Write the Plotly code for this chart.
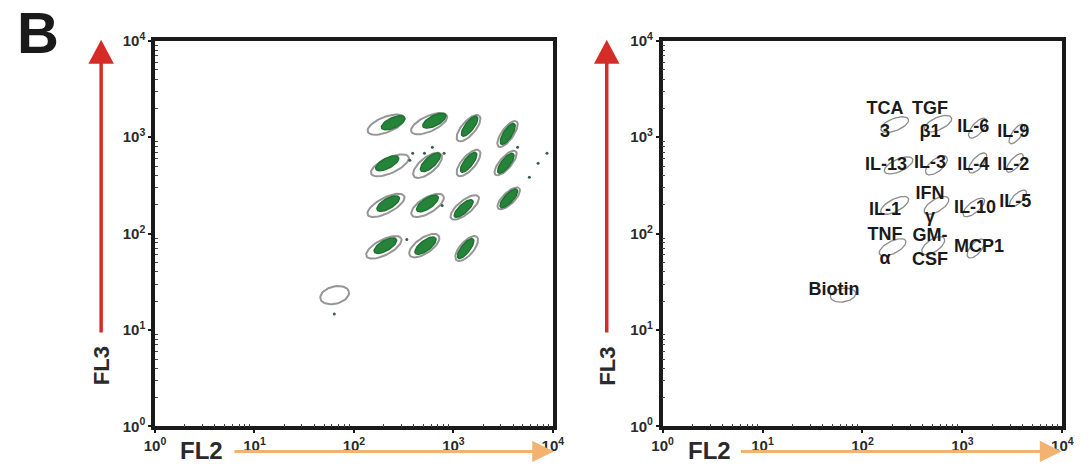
import numpy as np
import plotly.graph_objects as go

# ---------------- data ----------------
# bead-population gates (grey ellipses), FL2 / FL3 centres
bead_fl2 = [210, 570, 1420, 3500,
            230, 550, 1420, 3350,
            210, 550, 1300, 3600,
            200, 510, 1360]
bead_fl3 = [1350, 1380, 1240, 1080,
            510, 510, 540, 540,
            196, 196, 187, 232,
            72, 75, 70]
biotin_fl2 = 64
biotin_fl3 = 23

# green event clouds (centres)
cloud_fl2 = [248, 643, 1455, 3520,
             216, 587, 1422, 3365,
             221, 548, 1268, 3606,
             207, 524, 1327]
cloud_fl3 = [1410, 1480, 1300, 1080,
             536, 549, 549, 536,
             205, 205, 182, 232,
             75, 75, 70]

# stray events
stray_fl2 = [390, 365, 512, 614, 806, 8730, 7110, 5800, 771, 340, 4420, 63.5]
stray_fl3 = [681, 576, 681, 787, 681, 681, 536, 383, 196, 86.6, 787, 14.7]

# cytokine labels (right panel)
label_text = ["TCA<br>3", "TGF<br>β1", "IL-6", "IL-9",
              "IL-13", "IL-3", "IL-4", "IL-2",
              "IL-1", "IFN<br>γ", "IL-10", "IL-5",
              "TNF<br>α", "GM-<br>CSF", "MCP1", "Biotin"]
label_fl2 = [168, 475, 1282, 3236,
             172, 475, 1282, 3236,
             168, 475, 1340, 3382,
             168, 475, 1468, 52]
label_fl3 = [1468, 1468, 1271, 1128,
             511, 536, 511, 511,
             174, 192, 182, 210,
             71.5, 70, 71.5, 25.5]

tick_vals = [1, 10, 100, 1000, 10000]
tick_text = ["<b>10<sup>0</sup></b>", "<b>10<sup>1</sup></b>", "<b>10<sup>2</sup></b>",
             "<b>10<sup>3</sup></b>", "<b>10<sup>4</sup></b>"]

# ---------------- styles ----------------
ell_angle = [22, 25, 50, 55, 25, 40, 50, 50, 28, 32, 40, 45, 28, 35, 50]
ell_major = [20, 20, 17, 16, 21, 18, 17, 16, 21, 19, 18, 15, 20, 18, 16]
ell_minor = [8, 8, 7, 6, 8, 8, 7, 6, 8, 8, 7, 6, 8, 8, 7]

W, H = 1091, 469
FONT = "Liberation Sans, Arial, sans-serif"
TOP, BOT = 31, 433
PX_X = 101.5                 # pixels per decade, x
PX_Y = (BOT - TOP) / 4.0     # pixels per decade, y
GREY = "rgb(150,150,150)"
GREEN = "rgb(38,132,58)"


def ellipse(cx, cy, a, b, ang, n=60):
    t = np.linspace(0, 2 * np.pi, n)
    th = np.deg2rad(ang)
    dx = a * np.cos(t) * np.cos(th) - b * np.sin(t) * np.sin(th)
    dy = a * np.cos(t) * np.sin(th) + b * np.sin(t) * np.cos(th)
    return (10 ** (np.log10(cx) + dx / PX_X), 10 ** (np.log10(cy) + dy / PX_Y))


fig = go.Figure()

# ---- left panel ----
for i in range(len(bead_fl2)):
    ex, ey = ellipse(bead_fl2[i], bead_fl3[i], ell_major[i], ell_minor[i], ell_angle[i])
    fig.add_trace(go.Scatter(x=ex, y=ey, mode="lines", line=dict(color=GREY, width=2),
                             hoverinfo="skip", showlegend=False, xaxis="x", yaxis="y"))
ex, ey = ellipse(biotin_fl2, biotin_fl3, 15, 9, 15)
fig.add_trace(go.Scatter(x=ex, y=ey, mode="lines", line=dict(color=GREY, width=2),
                         hoverinfo="skip", showlegend=False, xaxis="x", yaxis="y"))
for i in range(len(cloud_fl2)):
    a = 13 if i % 4 < 2 else 12.5
    b = 5.3 if i % 4 < 2 else 4.5
    ex, ey = ellipse(cloud_fl2[i], cloud_fl3[i], a, b, ell_angle[i] + 3)
    fig.add_trace(go.Scatter(x=ex, y=ey, mode="lines", fill="toself", fillcolor=GREEN,
                             line=dict(color="rgb(30,115,48)", width=1.5),
                             hoverinfo="skip", showlegend=False, xaxis="x", yaxis="y"))
fig.add_trace(go.Scatter(x=stray_fl2, y=stray_fl3, mode="markers",
                         marker=dict(color="rgb(60,95,70)", size=3),
                         hoverinfo="skip", showlegend=False, xaxis="x", yaxis="y"))

# ---- right panel ----
for i in range(len(bead_fl2)):
    ex, ey = ellipse(bead_fl2[i], bead_fl3[i], ell_major[i] * 0.75, ell_minor[i] * 0.8, ell_angle[i])
    fig.add_trace(go.Scatter(x=ex, y=ey, mode="lines", line=dict(color="rgb(140,140,140)", width=1.3),
                             hoverinfo="skip", showlegend=False, xaxis="x2", yaxis="y2"))
ex, ey = ellipse(biotin_fl2, biotin_fl3, 13, 7, 10)
fig.add_trace(go.Scatter(x=ex, y=ey, mode="lines", line=dict(color="rgb(140,140,140)", width=1.3),
                         hoverinfo="skip", showlegend=False, xaxis="x2", yaxis="y2"))
fig.add_trace(go.Scatter(x=label_fl2, y=label_fl3, mode="text",
                         text=[f"<b>{t}</b>" for t in label_text],
                         textfont=dict(family=FONT, size=18, color="#1a1a1a"),
                         textposition="middle center",
                         hoverinfo="skip", showlegend=False, xaxis="x2", yaxis="y2"))


def px(x):
    return x / W


def py(y):
    return 1 - y / H


minor_vals = [m * 10 ** k for k in range(4) for m in range(2, 10)]


def axis(domain, anchor):
    return dict(type="log", range=[0, 4], domain=domain, anchor=anchor,
                showline=True, mirror=True, linecolor="#1a1a1a", linewidth=3.5,
                ticks="outside", ticklen=3, tickwidth=1.5, tickcolor="#1a1a1a",
                showgrid=False, zeroline=False,
                tickmode="array", tickvals=tick_vals, ticktext=tick_text,
                tickfont=dict(family=FONT, size=15, color="#2a2a2a"),
                minor=dict(tickmode="array", tickvals=minor_vals, ticks="inside", ticklen=3,
                           tickwidth=1, tickcolor="#444", showgrid=False),
                fixedrange=True)


ydom = [py(BOT), py(TOP)]
layout = dict(
    width=W, height=H, margin=dict(l=0, r=0, t=0, b=0),
    paper_bgcolor="white", plot_bgcolor="white", showlegend=False,
    xaxis=axis([px(147), px(553)], "y"),
    yaxis=axis(ydom, "x"),
    xaxis2=axis([px(665), px(1073)], "y2"),
    yaxis2=axis(ydom, "x2"),
)
fig.update_layout(**layout)

RED = "rgb(214,44,40)"
ORANGE = "rgb(244,178,112)"
shapes = []
annotations = []
for ax_x in [92, 608]:
    # red FL3 arrow
    shapes.append(dict(type="line", xref="paper", yref="paper",
                       x0=px(ax_x), x1=px(ax_x), y0=py(335), y1=py(52),
                       line=dict(color=RED, width=3.5)))
    shapes.append(dict(type="path", xref="paper", yref="paper",
                       path=f"M {px(ax_x-13)} {py(55)} L {px(ax_x+13)} {py(55)} L {px(ax_x)} {py(30)} Z",
                       fillcolor=RED, line=dict(color=RED, width=0)))
    annotations.append(dict(text="<b>FL3</b>", xref="paper", yref="paper", x=px(ax_x), y=py(370),
                            showarrow=False, textangle=-90, xanchor="center", yanchor="middle",
                            font=dict(family=FONT, size=22, color="#2a2a2a")))

for fl2_x, s0, s1 in [(194, 228, 534), (713, 745, 1052)]:
    shapes.append(dict(type="line", xref="paper", yref="paper",
                       x0=px(s0), x1=px(s1), y0=py(459), y1=py(459),
                       line=dict(color=ORANGE, width=3)))
    shapes.append(dict(type="path", xref="paper", yref="paper",
                       path=f"M {px(s1-2)} {py(448)} L {px(s1-2)} {py(470)} L {px(s1+20)} {py(459)} Z",
                       fillcolor=ORANGE, line=dict(color=ORANGE, width=0)))
    annotations.append(dict(text="<b>FL2</b>", xref="paper", yref="paper", x=px(fl2_x), y=py(458),
                            showarrow=False, xanchor="center", yanchor="middle",
                            font=dict(family=FONT, size=24, color="#2a2a2a")))

annotations.append(dict(text="<b>B</b>", xref="paper", yref="paper", x=px(28), y=py(22),
                        showarrow=False, xanchor="center", yanchor="middle",
                        font=dict(family=FONT, size=58, color="#1a1a1a")))

fig.update_layout(shapes=shapes, annotations=annotations)
fig.write_html("out.html", config={"displayModeBar": False},
               post_script="document.body.style.margin='0px';document.body.style.overflow='hidden';")
